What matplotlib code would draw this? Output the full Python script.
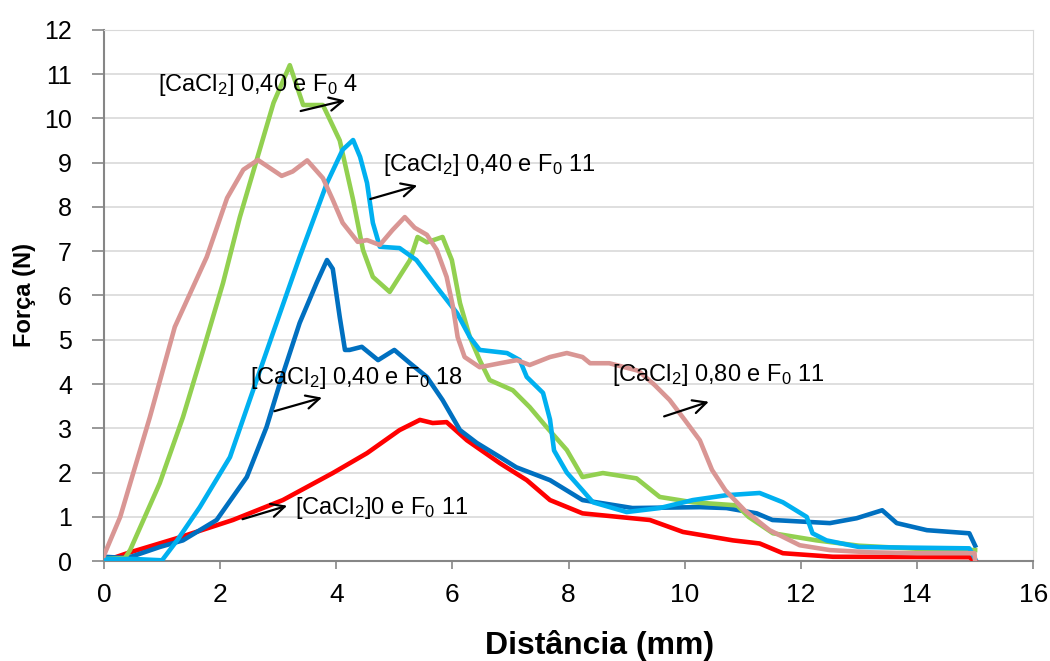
import numpy as np
from matplotlib import pyplot as plt

# Curvas força x distância
x_080_11 = [0, 0.28, 0.79, 1.22, 1.77, 2.12, 2.4, 2.65, 3.06, 3.25, 3.5, 3.77, 3.94, 4.11, 4.37, 4.53,
            4.75, 4.97, 5.18, 5.35, 5.56, 5.73, 5.9, 6.01, 6.09, 6.21, 6.47, 6.82, 7.11, 7.33, 7.68,
            7.97, 8.24, 8.37, 8.7, 9.2, 9.48, 9.74, 10.0, 10.26, 10.47, 10.7, 11.03, 11.46, 11.98,
            12.5, 13.2, 14.0, 14.99, 15.0]
y_080_11 = [0.13, 1.0, 3.25, 5.29, 6.87, 8.2, 8.84, 9.06, 8.7, 8.8, 9.05, 8.65, 8.16, 7.64, 7.21, 7.25,
            7.14, 7.48, 7.77, 7.53, 7.37, 7.03, 6.42, 5.74, 5.06, 4.61, 4.38, 4.47, 4.54, 4.43, 4.61,
            4.7, 4.61, 4.47, 4.47, 4.3, 3.98, 3.64, 3.19, 2.73, 2.06, 1.6, 1.15, 0.7, 0.36,
            0.25, 0.2, 0.18, 0.18, 0.0]

x_040_4 = [0, 0.36, 0.45, 0.96, 1.36, 1.71, 2.05, 2.34, 2.63, 2.92, 3.2, 3.43, 3.77, 4.06, 4.29, 4.46,
           4.63, 4.92, 5.27, 5.4, 5.56, 5.83, 5.99, 6.13, 6.3, 6.47, 6.64, 7.04, 7.33, 7.62, 7.97,
           8.24, 8.59, 9.17, 9.57, 10.14, 10.9, 11.1, 11.52, 12.27, 13.0, 14.0, 15.0]
y_040_4 = [0.05, 0.07, 0.25, 1.76, 3.25, 4.77, 6.28, 7.77, 9.06, 10.35, 11.2, 10.3, 10.3, 9.5, 8.16, 7.03,
           6.42, 6.08, 6.8, 7.32, 7.2, 7.32, 6.8, 5.83, 5.06, 4.54, 4.09, 3.86, 3.48, 3.03, 2.51,
           1.9, 1.99, 1.87, 1.45, 1.33, 1.26, 1.0, 0.63, 0.47, 0.35, 0.28, 0.25]

x_040_11 = [0, 0.5, 1.0, 1.26, 1.65, 2.17, 2.51, 2.91, 3.37, 3.84, 4.11, 4.29, 4.41, 4.53, 4.63, 4.75,
            5.09, 5.38, 5.73, 6.08, 6.3, 6.47, 6.94, 7.16, 7.28, 7.56, 7.68, 7.75, 7.97, 8.24, 8.42,
            9.0, 9.57, 10.14, 10.72, 11.29, 11.69, 12.1, 12.2, 12.44, 13.0, 14.9, 15.0]
y_040_11 = [0.05, 0.05, 0.02, 0.47, 1.22, 2.35, 3.64, 5.15, 6.87, 8.54, 9.29, 9.51, 9.13, 8.54, 7.64, 7.1,
            7.07, 6.8, 6.19, 5.6, 5.06, 4.77, 4.7, 4.54, 4.16, 3.8, 3.2, 2.5, 2.0, 1.6, 1.33,
            1.11, 1.2, 1.38, 1.49, 1.54, 1.33, 1.0, 0.63, 0.47, 0.32, 0.29, 0.05]

x_040_18 = [0, 0.4, 0.96, 1.36, 1.94, 2.46, 2.8, 3.03, 3.37, 3.66, 3.84, 3.94, 4.06, 4.15, 4.23, 4.44,
            4.72, 5.0, 5.27, 5.56, 5.83, 6.13, 6.42, 6.82, 7.1, 7.68, 8.24, 9.1, 10.26, 10.72, 11.24,
            11.51, 12.5, 12.96, 13.4, 13.65, 14.17, 14.9, 15.0]
y_040_18 = [0.1, 0.07, 0.32, 0.47, 0.93, 1.9, 3.03, 4.02, 5.38, 6.28, 6.8, 6.6, 5.51, 4.77, 4.77, 4.84,
            4.54, 4.77, 4.47, 4.16, 3.64, 2.96, 2.67, 2.35, 2.12, 1.83, 1.38, 1.2, 1.22, 1.2, 1.08,
            0.93, 0.86, 0.97, 1.15, 0.86, 0.7, 0.63, 0.35]

x_0_11 = [0, 0.4, 1.26, 2.22, 3.08, 3.94, 4.53, 5.09, 5.44, 5.66, 5.9, 6.25, 6.82, 7.28, 7.68, 8.24,
          9.4, 9.97, 10.83, 11.29, 11.69, 12.55, 14.9, 15.0]
y_0_11 = [0, 0.18, 0.52, 0.93, 1.38, 1.99, 2.44, 2.96, 3.19, 3.12, 3.14, 2.73, 2.21, 1.83, 1.38, 1.08,
          0.93, 0.66, 0.47, 0.4, 0.18, 0.1, 0.09, 0.0]

# Textos das anotações
rotulos = [r'[CaCl$_2$] 0,40 e F$_0$ 4',
           r'[CaCl$_2$] 0,40 e F$_0$ 11',
           r'[CaCl$_2$] 0,40 e F$_0$ 18',
           r'[CaCl$_2$] 0,80 e F$_0$ 11',
           r'[CaCl$_2$]0 e F$_0$ 11']

plt.rcParams['font.family'] = ['Liberation Sans', 'DejaVu Sans']
plt.rcParams['mathtext.fontset'] = 'custom'
plt.rcParams['mathtext.rm'] = 'Liberation Sans'
plt.rcParams['mathtext.it'] = 'Liberation Sans'

fig = plt.figure(figsize=(10.5, 6.61), dpi=100)
ax = fig.add_axes([0.099, 0.151, 0.885, 0.804])

ax.plot(x_0_11, y_0_11, color='#ff0000', lw=3.3, zorder=3, solid_joinstyle='round')
ax.plot(x_040_18, y_040_18, color='#0070c0', lw=3.3, zorder=4, solid_joinstyle='round')
ax.plot(x_040_4, y_040_4, color='#92d050', lw=3.3, zorder=5, solid_joinstyle='round')
ax.plot(x_040_11, y_040_11, color='#00b0f0', lw=3.3, zorder=6, solid_joinstyle='round')
ax.plot(x_080_11, y_080_11, color='#d99694', lw=3.3, zorder=7, solid_joinstyle='round')

# Anotações com setas
pos_texto = [(0.93, 10.76), (4.8, 8.95), (2.51, 4.14), (8.74, 4.2), (3.29, 1.2)]
setas = [((3.34, 10.15), (4.2, 10.42)),
         ((4.54, 8.16), (5.44, 8.5)),
         ((2.89, 3.37), (3.8, 3.71)),
         ((9.6, 3.25), (10.46, 3.62)),
         ((2.34, 0.93), (3.2, 1.27))]
for i in range(len(rotulos)):
    ax.text(pos_texto[i][0], pos_texto[i][1], rotulos[i], fontsize=17, va='center', ha='left', zorder=8)
    ax.annotate('', xy=setas[i][1], xytext=setas[i][0],
                arrowprops=dict(arrowstyle='->', color='black', lw=1.6, mutation_scale=24), zorder=8)

ax.set_xlim(0, 16)
ax.set_ylim(0, 12)
ax.set_xticks(np.arange(0, 17, 2))
ax.set_yticks(np.arange(0, 13, 1))
ax.grid(axis='y', color='#d9d9d9', lw=1.2)
ax.set_axisbelow(True)
for lado in ['left', 'bottom']:
    ax.spines[lado].set_color('#868686')
    ax.spines[lado].set_linewidth(1.5)
for lado in ['top', 'right']:
    ax.spines[lado].set_color('#d9d9d9')
ax.tick_params(axis='y', colors='#868686', length=9, width=1.2, labelsize=18, labelcolor='black', pad=14)
ax.tick_params(axis='x', colors='#868686', length=6, width=1.2, labelsize=19, labelcolor='black', pad=10)
ax.set_xlabel('Distância (mm)', fontsize=23, fontweight='bold')
ax.xaxis.set_label_coords(0.533, -0.13)
ax.set_ylabel('Força (N)', fontsize=17, fontweight='bold', labelpad=6)

plt.savefig('out.png', dpi=100)
